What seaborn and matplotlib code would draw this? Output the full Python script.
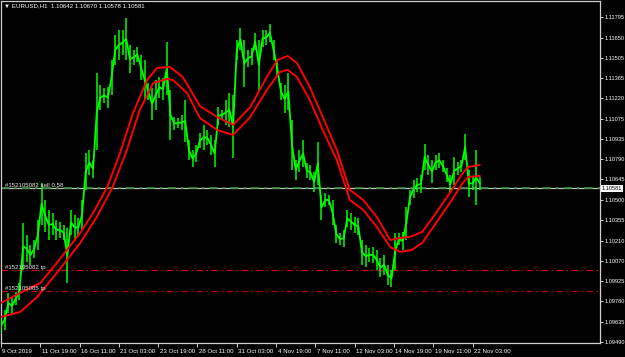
import matplotlib
matplotlib.use("Agg")
import matplotlib.pyplot as plt
import matplotlib.transforms as mtransforms
import seaborn as sns

# ---------------- data ----------------
bar_step = 6  # hourly bars between samples
bar_high = [1.09663,1.09720,1.09840,1.09812,1.09847,1.09911,1.10337,1.10251,1.10180,1.10216,
            1.10358,1.10620,1.10500,1.10429,1.10407,1.10358,1.10344,1.10322,1.10301,1.10429,
            1.10393,1.10372,1.10500,1.10833,1.10854,1.10783,1.11400,1.11315,1.11294,1.11301,
            1.11492,1.11670,1.11705,1.11705,1.11790,1.11599,1.11563,1.11585,1.11528,1.11492,
            1.11329,1.11294,1.11351,1.11372,1.11365,1.11620,1.11280,1.11088,1.11081,1.11102,
            1.11209,1.10925,1.10854,1.10890,1.10975,1.11032,1.10996,1.10961,1.10925,1.11159,
            1.11138,1.11209,1.11258,1.11244,1.11634,1.11719,1.11634,1.11563,1.11578,1.11684,
            1.11634,1.11705,1.11705,1.11748,1.11634,1.11492,1.11329,1.11315,1.11400,1.11067,
            1.10783,1.10854,1.10925,1.10762,1.10748,1.10698,1.10911,1.10535,1.10549,1.10535,
            1.10500,1.10322,1.10266,1.10287,1.10429,1.10407,1.10379,1.10372,1.10216,1.10180,
            1.10159,1.10166,1.10145,1.10088,1.10110,1.10039,1.10003,1.10266,1.10266,1.10273,
            1.10450,1.10571,1.10641,1.10656,1.10677,1.10897,1.10819,1.10783,1.10819,1.10833,
            1.10783,1.10727,1.10677,1.10805,1.10769,1.10783,1.10968,1.10712,1.10663,1.10854,
            1.10663]
bar_low = [1.09556,1.09578,1.09698,1.09684,1.09755,1.09790,1.10003,1.10060,1.10039,1.10088,
           1.10145,1.10322,1.10273,1.10216,1.10251,1.10216,1.10230,1.10216,1.09911,1.10251,
           1.10216,1.10237,1.10287,1.10571,1.10677,1.10656,1.10854,1.11138,1.11188,1.11152,
           1.11244,1.11457,1.11492,1.11528,1.11492,1.11400,1.11457,1.11478,1.11351,1.11209,
           1.11209,1.11067,1.11138,1.11223,1.11209,1.11244,1.10925,1.10996,1.11010,1.10996,
           1.10911,1.10783,1.10734,1.10769,1.10868,1.10854,1.10890,1.10819,1.10734,1.11032,
           1.11067,1.11032,1.11017,1.10797,1.11492,1.11563,1.11301,1.11443,1.11457,1.11563,
           1.11280,1.11585,1.11599,1.11620,1.11492,1.11372,1.11209,1.11117,1.11138,1.10712,
           1.10641,1.10698,1.10734,1.10656,1.10641,1.10556,1.10606,1.10358,1.10450,1.10464,
           1.10322,1.10195,1.10180,1.10166,1.10308,1.10287,1.10266,1.10251,1.10039,1.10024,
           1.10060,1.10053,1.10003,1.09954,1.09968,1.09897,1.09883,1.10003,1.10180,1.10145,
           1.10216,1.10464,1.10514,1.10556,1.10549,1.10712,1.10677,1.10620,1.10712,1.10727,
           1.10698,1.10627,1.10549,1.10606,1.10677,1.10698,1.10783,1.10521,1.10571,1.10464,
           1.10571]
bar_index = list(range(0, bar_step * len(bar_high), bar_step))

env_upper_x = [0,31,64,91,129,150,173,194,215,238,254,275,296,324,352,378,406,433,450,467,
               482,503,524,547,568,590,612,634,650,666,686,704,731,752,761,780]
env_upper_y = [1.09769,1.09840,1.09911,1.10053,1.10266,1.10407,1.10592,1.10833,1.11117,1.11351,
               1.11436,1.11443,1.11372,1.11166,1.11088,1.11032,1.11159,1.11372,1.11492,1.11521,
               1.11471,1.11301,1.11088,1.10854,1.10571,1.10500,1.10379,1.10216,1.10230,1.10237,
               1.10273,1.10379,1.10549,1.10691,1.10734,1.10748]
env_lower_x = [0,31,59,91,129,156,182,205,226,248,270,280,303,324,352,378,406,433,454,467,
               482,503,524,547,568,590,612,634,650,669,686,704,731,752,761,780]
env_lower_y = [1.09670,1.09705,1.09812,1.09982,1.10195,1.10379,1.10592,1.10854,1.11138,1.11329,
               1.11358,1.11351,1.11258,1.11081,1.10996,1.10961,1.11088,1.11280,1.11407,1.11422,
               1.11372,1.11209,1.10996,1.10783,1.10500,1.10429,1.10308,1.10166,1.10131,1.10145,
               1.10195,1.10308,1.10478,1.10620,1.10663,1.10670]

bid_price = 1.10581
tp_prices = [1.10000, 1.09855]
order_label = "#152105082 sell 0.58"
tp_labels = ["#152105082 tp", "#152105085 tp"]
title_text = "\u25BC EURUSD,H1  1.10642 1.10670 1.10578 1.10581"

x_tick_pos = [0, 64, 128, 192, 256, 320, 384, 448, 512, 576, 640, 704, 768]
x_tick_labels = ["9 Oct 2019", "11 Oct 19:00", "16 Oct 11:00", "21 Oct 03:00", "23 Oct 19:00",
                 "28 Oct 11:00", "31 Oct 03:00", "4 Nov 19:00", "7 Nov 11:00", "12 Nov 03:00",
                 "14 Nov 19:00", "19 Nov 11:00", "22 Nov 03:00"]
y_tick_vals = [1.11795, 1.11650, 1.11505, 1.11365, 1.11220, 1.11075, 1.10935, 1.10790, 1.10645,
               1.10500, 1.10355, 1.10210, 1.10070, 1.09925, 1.09780, 1.09635, 1.09490]

# ---------------- style ----------------
sns.set_theme(style="dark")
plt.rcParams["font.family"] = ["Liberation Sans", "DejaVu Sans"]
plt.rcParams["axes.facecolor"] = "black"
plt.rcParams["figure.facecolor"] = "black"

W, H = 625, 357
fig = plt.figure(figsize=(W / 100, H / 100), dpi=100, facecolor="black")
ax = fig.add_axes([1 / W, 14 / H, 599 / W, 342 / H])
ax.set_facecolor("black")
ax.grid(False)

# price bars
mid = [(h + l) / 2 for h, l in zip(bar_high, bar_low)]
ax.vlines(bar_index, bar_low, bar_high, color="#00FF00", lw=1.1, zorder=3)
sns.lineplot(x=bar_index, y=mid, ax=ax, color="#00FF00", lw=1.3, estimator=None,
             sort=False, zorder=3)

# envelope
sns.lineplot(x=env_upper_x, y=env_upper_y, ax=ax, color="#FF0000", lw=1.4,
             estimator=None, sort=False, zorder=4)
sns.lineplot(x=env_lower_x, y=env_lower_y, ax=ax, color="#FF0000", lw=1.4,
             estimator=None, sort=False, zorder=4)

# horizontal levels
ax.axhline(bid_price, color="#B8C8B8", lw=0.9, zorder=2)
ax.axhline(bid_price, color="#3E8E3E", lw=1.2, ls=(0, (5, 3, 1.5, 3)), zorder=2)
ax.axhline(tp_prices[0], color="#E00000", lw=0.8, ls=(0, (6, 3, 1.5, 3)), zorder=2)
ax.axhline(tp_prices[1], color="#C00000", lw=0.8, ls=(0, (6, 3, 1.5, 3)), zorder=2)

fs = 4.4
ax.text(7, bid_price, order_label, color="#E8E8E8", fontsize=fs, va="bottom", ha="left", zorder=6)
for p, lab in zip(tp_prices, tp_labels):
    ax.text(7, p, lab, color="#E8E8E8", fontsize=fs, va="bottom", ha="left", zorder=6)

ax.set_xlim(0, 975.6)
ax.set_ylim(1.09485, 1.11911)

# axes frame and ticks
for s in ax.spines.values():
    s.set_color("#D0D0D0")
    s.set_linewidth(0.9)
ax.yaxis.tick_right()
ax.set_yticks(y_tick_vals)
ax.set_yticklabels([f"{v:.5f}" for v in y_tick_vals])
ax.set_xticks(x_tick_pos)
ax.set_xticklabels(x_tick_labels)
ax.tick_params(axis="y", colors="#D0D0D0", labelcolor="white", length=2.5, width=0.7,
               labelsize=4.1, pad=0.8, right=True, left=False)
ax.tick_params(axis="x", colors="#D0D0D0", labelcolor="white", length=3, width=0.7,
               labelsize=fs, pad=1.5, bottom=True)
offset = mtransforms.ScaledTranslation(1.5 / 100, 0, fig.dpi_scale_trans)
for lbl in ax.get_xticklabels():
    lbl.set_horizontalalignment("left")
    lbl.set_transform(lbl.get_transform() + offset)
ax.set_xlabel("")
ax.set_ylabel("")

# bid price box on the price scale
ax.text(1.0 + 2 / 599, bid_price, "1.10581", transform=ax.get_yaxis_transform(),
        color="black", fontsize=4.1, va="center", ha="left", clip_on=False, zorder=7,
        bbox=dict(boxstyle="square,pad=0.15", fc="white", ec="white", lw=0))

# title
fig.text(4 / W, 1 - 6 / H, title_text, color="white", fontsize=fs, va="center", ha="left")

fig.savefig("out.png", dpi=100, facecolor="black")
